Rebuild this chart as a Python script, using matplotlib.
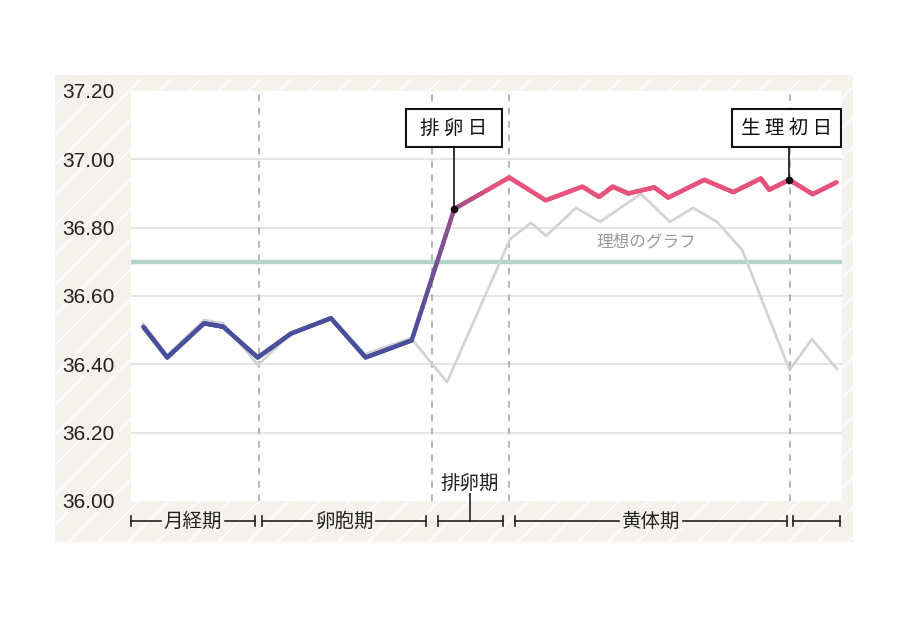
import numpy as np
import matplotlib
matplotlib.use("Agg")
import matplotlib.pyplot as plt
from matplotlib.collections import LineCollection
from matplotlib.patches import Rectangle
from matplotlib import colors as mcolors

plt.rcParams['font.family'] = ['Noto Sans CJK JP', 'DejaVu Sans']

# measured body temperature (x = position along the cycle, days-ish)
low_x = [0.69, 2.04, 4.11, 5.19, 7.13, 9.0, 11.25, 13.2, 15.79]
low_t = [36.51, 36.42, 36.52, 36.51, 36.42, 36.49, 36.535, 36.42, 36.47]
ovu_x = 18.19
ovu_t = 36.855
high_x = [21.28, 23.33, 25.39, 26.33, 27.1, 27.98, 29.44, 30.23, 32.25,
          33.88, 35.43, 35.91, 37.03, 38.35, 39.70]
high_t = [36.947, 36.88, 36.92, 36.89, 36.92, 36.90, 36.918, 36.888, 36.94,
          36.904, 36.944, 36.911, 36.94, 36.898, 36.933]
period_x = 37.03
period_t = 36.94

# ideal curve
ideal_x = [0.68, 2.03, 4.11, 5.18, 7.14, 9.0, 11.25, 13.16, 15.75, 17.78,
           21.33, 22.5, 23.35, 25.04, 26.39, 28.69, 30.32, 31.62, 32.97,
           34.38, 37.05, 38.31, 39.72]
ideal_t = [36.52, 36.427, 36.53, 36.52, 36.398, 36.49, 36.536, 36.43, 36.477,
           36.348, 36.767, 36.814, 36.776, 36.858, 36.817, 36.899, 36.817,
           36.858, 36.817, 36.735, 36.383, 36.474, 36.386]

ref_temp = 36.70
phase_lines = [7.22, 16.91, 21.27, 37.05]
phases = ['月経期', '卵胞期', '排卵期', '黄体期', '']
phase_spans = [(0, 6.98), (7.39, 16.58), (17.25, 20.91), (21.6, 36.89), (37.26, 39.89)]
yticks = [36.0, 36.2, 36.4, 36.6, 36.8, 37.0, 37.2]

blue = '#4a4f9c'
pink = '#e8537c'

fig = plt.figure(figsize=(9.09, 6.19), dpi=100)

# hatched beige panel behind everything
bg = fig.add_axes([0, 0, 1, 1], zorder=-5)
bg.set_xlim(0, 909)
bg.set_ylim(619, 0)
bg.axis('off')
panel = Rectangle((55, 75), 798, 467, facecolor='#f5f1ec', edgecolor='none')
bg.add_patch(panel)
for s in np.arange(-500, 1000, 30):
    ln, = bg.plot([s, s + 520], [600, 80], color='white', lw=1.0)
    ln.set_clip_path(panel)

ax = fig.add_axes([131 / 909, 118 / 619, 711 / 909, 410 / 619])
ax.set_facecolor('white')
ax.set_xlim(0, 40)
ax.set_ylim(36.0, 37.2)
for sp in ax.spines.values():
    sp.set_visible(False)
ax.set_xticks([])
ax.set_yticks(yticks)
ax.set_yticklabels(['%.2f' % v for v in yticks], family='Liberation Sans',
                   fontsize=15, color='#222222')
ax.tick_params(axis='y', length=0, pad=12)

for v in yticks[1:-1]:
    ax.axhline(v, color='#e3e3e3', lw=1.3, zorder=1)
for v in phase_lines:
    ax.axvline(v, color='#a8a8a8', lw=1.2, ls=(0, (4, 4)), zorder=1)

ax.axhline(ref_temp, color='#b3d2c8', lw=3.2, zorder=2)

ax.plot(ideal_x, ideal_t, color='#d2d2d2', lw=1.9, zorder=3)
ax.text(29.01, 36.759, '理想のグラフ', color='#9a9a9a', fontsize=12,
        ha='center', va='center', zorder=3)

# main line with blue -> pink gradient around ovulation
xs = np.array(low_x + [ovu_x] + high_x)
ts = np.array(low_t + [ovu_t] + high_t)
c0 = np.array(mcolors.to_rgb(blue))
c1 = np.array(mcolors.to_rgb(pink))
segs, cols = [], []
for i in range(len(xs) - 1):
    n = 24
    px = np.linspace(xs[i], xs[i + 1], n + 1)
    pt = np.linspace(ts[i], ts[i + 1], n + 1)
    for j in range(n):
        segs.append([(px[j], pt[j]), (px[j + 1], pt[j + 1])])
        xm = (px[j] + px[j + 1]) / 2
        f = np.clip((xm - 15.9) / (20.6 - 15.9), 0, 1)
        cols.append(c0 * (1 - f) + c1 * f)
lc = LineCollection(segs, colors=cols, linewidths=3.2, capstyle='round',
                    joinstyle='round', zorder=4)
ax.add_collection(lc)

# callouts
for lx, lt, x0, x1, label in [(ovu_x, ovu_t, 15.47, 20.87, '排 卵 日'),
                              (period_x, period_t, 33.81, 39.93, '生 理 初 日')]:
    ax.plot([lx, lx], [37.036, lt], color='#111111', lw=1.2, zorder=5)
    ax.plot(lx, lt, 'o', color='#111111', ms=4.5, zorder=6)
    ax.add_patch(Rectangle((x0, 37.036), x1 - x0, 0.111, facecolor='white',
                           edgecolor='#111111', lw=1.5, zorder=6))
    ax.text((x0 + x1) / 2, 37.036 + 0.0555, label, fontsize=14, color='#111111',
            ha='center', va='center', zorder=7)

# phase brackets below the plot
tr = ax.get_xaxis_transform()
yb = -0.0488
for name, (a, b) in zip(phases, phase_spans):
    for xe in (a, b):
        ax.plot([xe, xe], [yb - 0.012, yb + 0.012], color='#222222', lw=1.2,
                transform=tr, clip_on=False)
    mid = (a + b) / 2
    if name and name != '排卵期':
        half = 1.8
        ax.plot([a, mid - half], [yb, yb], color='#222222', lw=1.2,
                transform=tr, clip_on=False)
        ax.plot([mid + half, b], [yb, yb], color='#222222', lw=1.2,
                transform=tr, clip_on=False)
        ax.text(mid, yb, name, fontsize=14, color='#222222', ha='center',
                va='center', transform=tr, clip_on=False)
    else:
        ax.plot([a, b], [yb, yb], color='#222222', lw=1.2, transform=tr,
                clip_on=False)
    if name == '排卵期':
        ax.plot([mid, mid], [yb, 0.017], color='#222222', lw=1.2,
                transform=tr, clip_on=False)
        ax.text(mid, 0.044, name, fontsize=14, color='#222222', ha='center',
                va='center', transform=tr, clip_on=False)

fig.savefig('out.png', dpi=100)
